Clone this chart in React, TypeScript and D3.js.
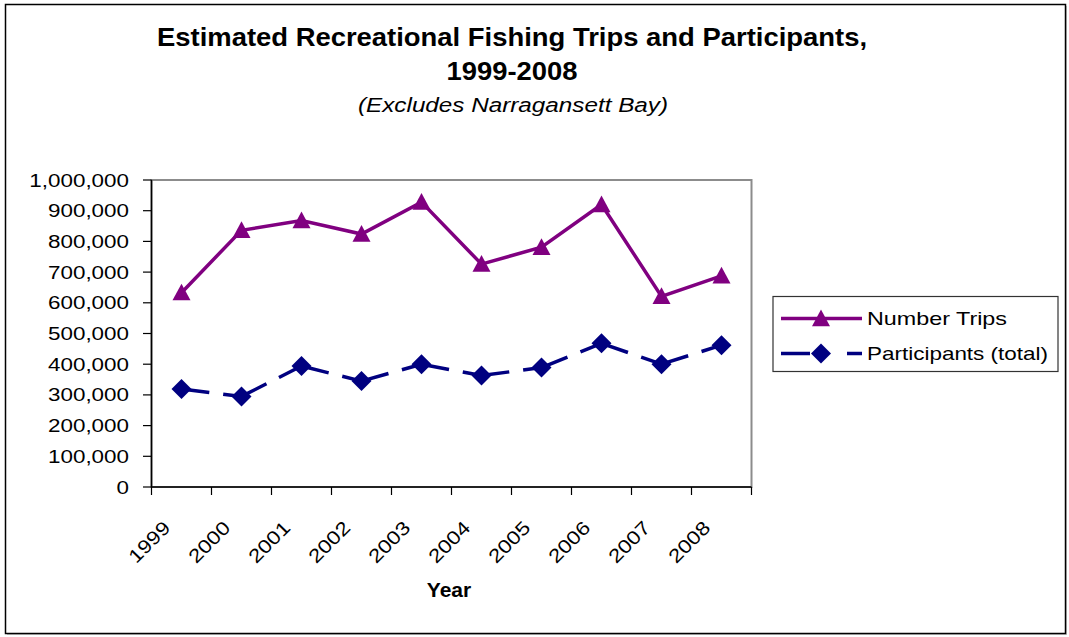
import React from "react";
import * as d3 from "d3";

const years = ["1999", "2000", "2001", "2002", "2003", "2004", "2005", "2006", "2007", "2008"];
const numberTrips = [633000, 836000, 868000, 824000, 928000, 726000, 781000, 920000, 621000, 688000];
const participants = [319000, 295000, 394000, 345000, 400000, 363000, 389000, 468000, 400000, 462000];
const yTicks = [0, 100000, 200000, 300000, 400000, 500000, 600000, 700000, 800000, 900000, 1000000];
const seriesNames = ["Number Trips", "Participants (total)"];

const W = 1069;
const H = 637;
const FONT = "'Liberation Sans', Arial, Helvetica, sans-serif";
const SX = 1.18;

const PURPLE = "#800080";
const NAVY = "#000080";

export default function App() {
  const left = 151.5, right = 751.5, top = 180, bottom = 487;
  const x = d3.scaleBand<string>().domain(years).range([left, right]).padding(0);
  const y = d3.scaleLinear().domain([0, 1000000]).range([bottom, top]);
  const cx = (yr: string) => (x(yr) as number) + x.bandwidth() / 2;
  const fmt = d3.format(",");

  const tripLine = d3
    .line<number>()
    .x((_, i) => cx(years[i]))
    .y((d) => y(d))(numberTrips) as string;

  const tri = (px: number, py: number, s = 9) =>
    `M${px},${py - s}L${px + s},${py + s * 0.85}L${px - s},${py + s * 0.85}Z`;
  const dia = (px: number, py: number, s = 10) =>
    `M${px},${py - s}L${px + s},${py}L${px},${py + s}L${px - s},${py}Z`;

  const boundaries = d3.range(years.length + 1).map((i) => left + i * x.bandwidth());

  return (
    <svg
      width={W}
      height={H}
      style={{ position: "fixed", left: 0, top: 0, background: "#fff" }}
      fontFamily={FONT}
    >
      <rect x={0} y={0} width={W} height={H} fill="#fff" />
      {/* outer border */}
      <line x1={1066.5} y1={6} x2={1066.5} y2={635} stroke="#c8c8c8" strokeWidth={1} />
      <line x1={7} y1={634.5} x2={1066} y2={634.5} stroke="#c8c8c8" strokeWidth={1} />
      <rect x={5.5} y={4.5} width={1060} height={629} fill="none" stroke="#000" strokeWidth={1.5} />

      {/* titles */}
      <text x={512} y={46} textAnchor="middle" fontWeight="bold" fontSize={25} textLength={710} lengthAdjust="spacingAndGlyphs">
        Estimated Recreational Fishing Trips and Participants,
      </text>
      <text x={512} y={80} textAnchor="middle" fontWeight="bold" fontSize={25} textLength={131} lengthAdjust="spacingAndGlyphs">
        1999-2008
      </text>
      <text x={513} y={112} textAnchor="middle" fontStyle="italic" fontSize={20} textLength={310} lengthAdjust="spacingAndGlyphs">
        (Excludes Narragansett Bay)
      </text>

      {/* plot frame */}
      <rect x={left} y={top} width={right - left} height={bottom - top} fill="none" stroke="#8c8c8c" strokeWidth={2} />
      <line x1={left} y1={top} x2={left} y2={bottom} stroke="#000" strokeWidth={1.5} />
      <line x1={left} y1={bottom} x2={right} y2={bottom} stroke="#000" strokeWidth={1.5} />

      {/* y ticks */}
      {yTicks.map((t) => (
        <g key={t}>
          <line x1={143} x2={left} y1={y(t)} y2={y(t)} stroke="#000" strokeWidth={1.2} />
          <text
            transform={`translate(129,${y(t) + 6.5}) scale(${SX},1)`}
            textAnchor="end"
            fontSize={19}
            fill="#000"
          >
            {fmt(t)}
          </text>
        </g>
      ))}

      {/* x ticks */}
      {boundaries.map((b, i) => (
        <line key={i} x1={b} x2={b} y1={bottom} y2={bottom + 8} stroke="#000" strokeWidth={1.2} />
      ))}
      {years.map((yr) => (
        <text
          key={yr}
          transform={`translate(${cx(yr) - 10},${bottom + 42}) rotate(-45) scale(${SX},1)`}
          textAnchor="end"
          fontSize={19}
          fill="#000"
        >
          {yr}
        </text>
      ))}
      <text x={449} y={597} textAnchor="middle" fontWeight="bold" fontSize={21}>
        Year
      </text>

      {/* Participants dashed line (pattern restarts per segment) */}
      {participants.slice(1).map((v, i) => (
        <line
          key={i}
          x1={cx(years[i])}
          y1={y(participants[i])}
          x2={cx(years[i + 1])}
          y2={y(v)}
          stroke={NAVY}
          strokeWidth={3.5}
          strokeDasharray="28 14"
        />
      ))}
      {participants.map((v, i) => (
        <path key={i} d={dia(cx(years[i]), y(v))} fill={NAVY} />
      ))}

      {/* Number trips line */}
      <path d={tripLine} fill="none" stroke={PURPLE} strokeWidth={3.5} strokeLinejoin="miter" />
      {numberTrips.map((v, i) => (
        <path key={i} d={tri(cx(years[i]), y(v))} fill={PURPLE} />
      ))}

      {/* legend */}
      <rect x={773} y={296.5} width={285} height={75} fill="#fff" stroke="#333" strokeWidth={1.2} />
      <line x1={781} x2={862} y1={318.5} y2={318.5} stroke={PURPLE} strokeWidth={3.5} />
      <path d={tri(821, 318.5)} fill={PURPLE} />
      <text x={867} y={325} fontSize={19} textLength={140} lengthAdjust="spacingAndGlyphs">
        {seriesNames[0]}
      </text>
      <line x1={781} x2={862} y1={353.5} y2={353.5} stroke={NAVY} strokeWidth={3.5} strokeDasharray="29 37 16" />
      <path d={dia(821, 353.5)} fill={NAVY} />
      <text x={867} y={360} fontSize={19} textLength={181} lengthAdjust="spacingAndGlyphs">
        {seriesNames[1]}
      </text>
    </svg>
  );
}
